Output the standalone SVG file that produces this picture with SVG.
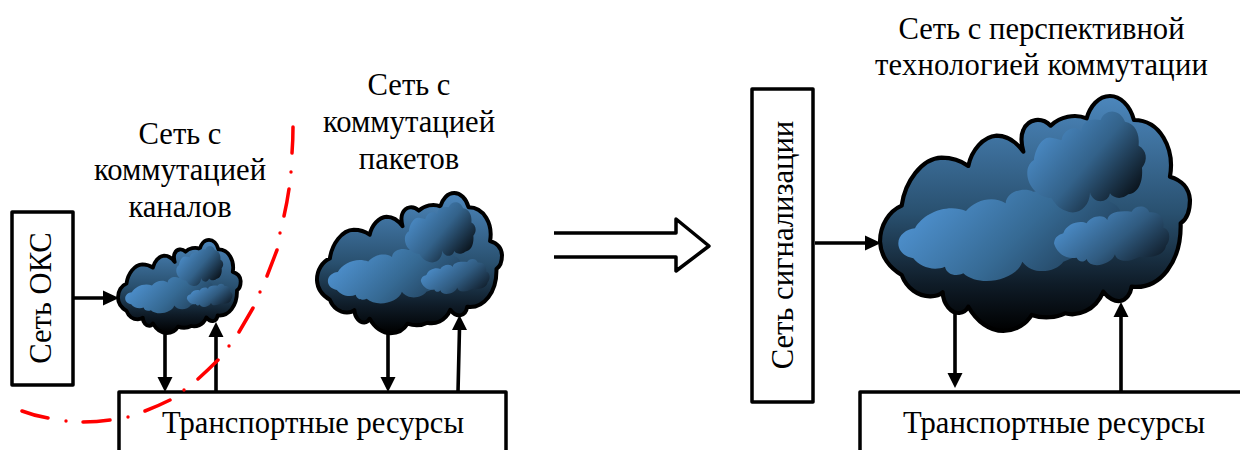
<svg xmlns="http://www.w3.org/2000/svg" width="1240" height="450" viewBox="0 0 1240 450">
<style>
text{font-family:"Liberation Serif","Times New Roman",serif;font-size:30.600px;fill:#000}
.c{text-anchor:middle}
.box{fill:#fff;stroke:#000;stroke-width:3.500;stroke-linejoin:round}
.ln{fill:none;stroke:#000;stroke-width:3.600}
.red{fill:none;stroke:#f00;stroke-width:3.500;stroke-linecap:round}
.reddot{fill:#f00}
</style>
<defs>
<linearGradient id="gOuter" x1="0" y1="0" x2="0" y2="1"><stop offset="0" stop-color="#4c87bd"/><stop offset="0.5" stop-color="#29506f"/><stop offset="0.8" stop-color="#0f1c28"/><stop offset="1" stop-color="#000"/></linearGradient>
<linearGradient id="gIn1" x1="0.05" y1="0.35" x2="1" y2="0.75"><stop offset="0" stop-color="#4d8fcc"/><stop offset="0.5" stop-color="#366a94"/><stop offset="1" stop-color="#1d3850"/></linearGradient>
<linearGradient id="gIn2" x1="0.05" y1="0.2" x2="0.95" y2="0.85"><stop offset="0" stop-color="#4d8fcc"/><stop offset="0.5" stop-color="#33628a"/><stop offset="1" stop-color="#060b10"/></linearGradient>
<linearGradient id="gIn3" x1="0.05" y1="0.3" x2="0.95" y2="0.85"><stop offset="0" stop-color="#4d8fcc"/><stop offset="0.55" stop-color="#305b80"/><stop offset="1" stop-color="#101d2a"/></linearGradient>
<g id="cloud">
<path fill="url(#gOuter)" stroke="#000" stroke-linejoin="round" d="M125 362C88 378 60 420 60 470C62 515 90 550 125 570C140 610 175 635 212 634C228 634 240 630 248 622C250 660 275 685 298 684C310 683 320 675 325 665C350 710 390 738 430 738C470 738 500 715 515 690C550 702 590 698 615 685C650 695 705 680 730 620C745 640 765 650 780 648C800 645 812 625 815 605C900 615 965 530 962 415C985 400 990 370 990 345C988 310 965 285 930 275C945 190 900 105 822 105C810 60 780 33 750 33C715 33 690 65 680 100C645 85 600 95 572 122C545 95 505 100 490 135C483 150 482 170 490 200C465 165 435 152 410 152C370 155 335 195 325 243C300 225 270 218 245 218C185 220 135 290 125 362Z"/>
<path fill="url(#gIn1)" d="M115 475C115 450 140 432 165 430C190 385 260 355 318 378C345 345 400 330 437 355C440 320 490 305 520 320C600 310 760 330 780 375C770 440 690 500 610 530C590 560 520 575 487 530C470 585 360 610 310 565C290 575 260 570 255 545C220 560 180 545 160 520C135 515 115 500 115 475Z"/>
<path fill="url(#gIn2)" d="M522 225C525 195 545 155 572 158C590 160 600 165 605 165C610 130 650 120 664 140C665 105 695 100 722 105C735 70 780 70 795 110C825 115 840 145 836 182C860 195 865 225 846 248C850 290 835 325 805 328C785 345 760 340 750 325C745 355 700 360 690 322C690 365 655 390 625 380C605 375 590 365 575 340C530 335 500 300 502 260C503 245 510 232 522 225Z"/>
<path fill="url(#gIn3)" d="M582 475C585 455 595 450 610 445C620 415 660 405 680 415C690 395 730 385 742 405C745 385 770 375 815 380C825 360 860 358 868 382C895 380 915 395 910 428C935 435 930 470 918 482C915 510 870 522 840 515C800 535 770 530 765 508C755 540 690 555 680 522C670 535 655 530 650 518C620 525 590 505 582 475Z"/>
</g>
</defs>
<g id="connectors">
<path class="ln" d="M74 298H104M165 334V381M216 392V336M388 333V379M458 392L459.500 328M815 243H866M955 312V375M1121 392V316"/>
<path d="M119 298L103 290.500V305.500ZM165 392L157.500 377H172.500ZM216 322L208.500 337H223.500ZM388 392L380.500 377H395.500ZM459.500 315L452 330H467ZM881 243L865 235.500V250.500ZM955 388L947.500 373H962.500ZM1121 302L1113.500 317H1128.500Z"/>
<path class="box" d="M554 233H676V219L709 246L676 271V257H554"/>
</g>
<g id="node-oks"><rect class="box" x="12" y="212" width="61" height="173"/><text class="c" transform="translate(51 298) rotate(-90)">Сеть ОКС</text></g>
<g id="node-signal"><rect class="box" x="752" y="89" width="61" height="313"/><text class="c" transform="translate(793 245) rotate(-90)">Сеть сигнализации</text></g>
<g id="cloud-circuit"><use href="#cloud" transform="translate(110 235.600) scale(.132)" stroke-width="29"/></g>
<g id="cloud-packet"><use href="#cloud" transform="translate(305 186.400) scale(.199)" stroke-width="20"/></g>
<g id="cloud-future"><use href="#cloud" transform="translate(860 85) scale(.3333)" stroke-width="12.500"/></g>
<g id="node-transport-1"><path class="box" d="M119 450V392H506V450"/><text class="c" x="313" y="433">Транспортные ресурсы</text></g>
<g id="node-transport-2"><path class="box" d="M860 450V392H1247V450"/><text class="c" x="1054" y="433">Транспортные ресурсы</text></g>
<g id="labels">
<text class="c" x="180" y="144">Сеть с</text><text class="c" x="180" y="180">коммутацией</text><text class="c" x="180" y="217">каналов</text>
<text class="c" x="409" y="95">Сеть с</text><text class="c" x="409" y="132">коммутацией</text><text class="c" x="409" y="169">пакетов</text>
<text class="c" x="1041.500" y="39">Сеть с перспективной</text><text class="c" x="1041.500" y="75" letter-spacing=".2">технологией коммутации</text>
</g>
<g id="boundary">
<path class="red" d="M22 411Q35 416 48 418M83 422Q97 422 110 420M145 411Q158 406 170 400M198 379Q208 370 218 360M239 332Q246 320 253 308M267 276Q272 263 277 250M284 216Q287 203 289 189M292 153Q293 140 293 127"/>
<circle class="reddot" cx="66" cy="421" r="1.700"/><circle class="reddot" cx="128" cy="417" r="1.700"/><circle class="reddot" cx="184" cy="390" r="1.700"/><circle class="reddot" cx="229" cy="346" r="1.700"/><circle class="reddot" cx="260" cy="292" r="1.700"/><circle class="reddot" cx="280" cy="233" r="1.700"/><circle class="reddot" cx="291" cy="172" r="1.700"/>
</g>
</svg>
